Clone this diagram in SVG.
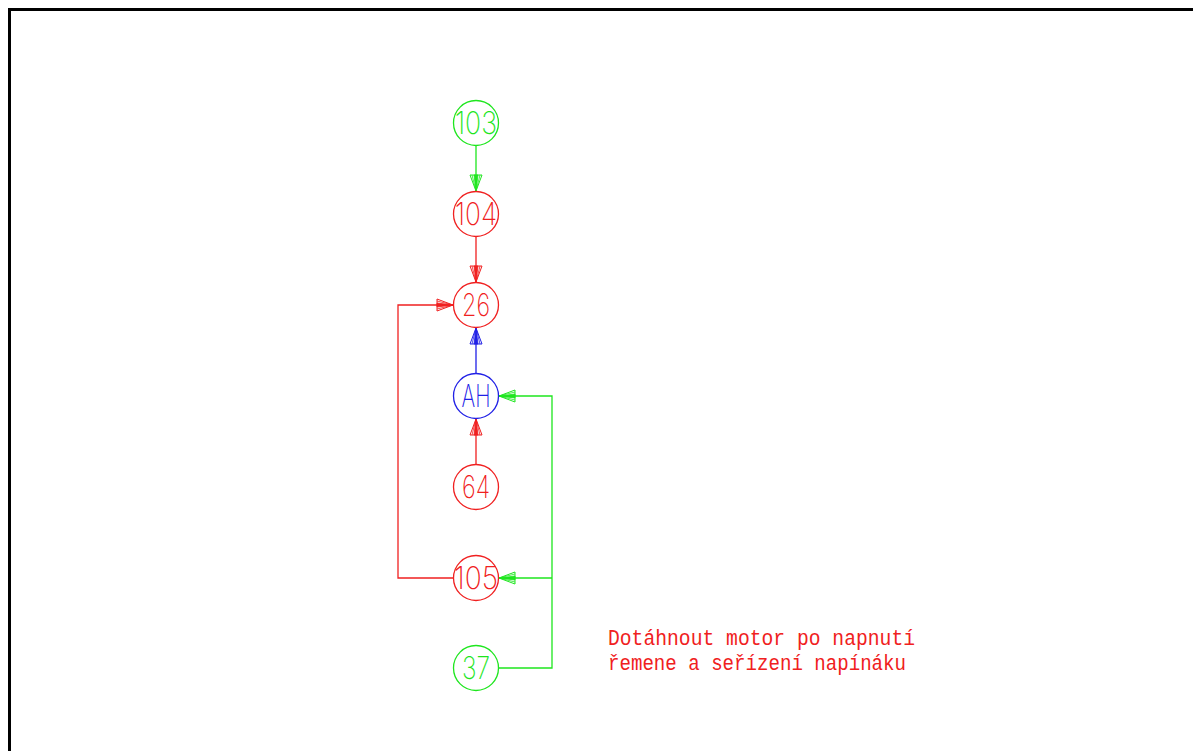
<svg xmlns="http://www.w3.org/2000/svg" width="1193" height="751" viewBox="0 0 1193 751">
<style>
.n{fill:none;stroke-width:1.3}
.t{font-family:Inter,Roboto,"Liberation Sans",Arial,sans-serif;font-weight:200;font-size:31px;text-anchor:middle}
.c{fill:none;stroke-width:1.3}
.gs{stroke:#1ee61e}
.rs{stroke:#f02020}
.bs{stroke:#2020e6}
.g{stroke:#1ee61e;fill:#1ee61e}
.r{stroke:#f02020;fill:#f02020}
.b{stroke:#2020e6;fill:#2020e6}
.note{font-family:"Liberation Mono","DejaVu Sans Mono",monospace;font-size:22px;fill:#f02020}
</style>
<defs>
<g id="ah">
<polygon points="0,0 -16,-6 -16,6" fill="none" stroke-width="1"/>
<polygon points="0,0 -16,-2 -16,2" stroke-width="0.8"/>
<line x1="-16" y1="-4" x2="0" y2="0" stroke-width="0.8"/>
<line x1="-16" y1="4" x2="0" y2="0" stroke-width="0.8"/>
</g>
</defs>
<rect x="9.5" y="9.5" width="1200" height="760" fill="#fff" stroke="#000" stroke-width="3"/>
<g id="connectors">
<line class="c gs" x1="476" y1="146" x2="476" y2="191"/>
<use href="#ah" class="g" transform="translate(476,191) rotate(90)"/>
<line class="c rs" x1="476" y1="236" x2="476" y2="282"/>
<use href="#ah" class="r" transform="translate(476,282) rotate(90)"/>
<line class="c bs" x1="476" y1="374" x2="476" y2="328"/>
<use href="#ah" class="b" transform="translate(476,328) rotate(-90)"/>
<line class="c rs" x1="476" y1="465" x2="476" y2="419"/>
<use href="#ah" class="r" transform="translate(476,419) rotate(-90)"/>
<polyline class="c rs" points="454,578 398,578 398,305 453,305"/>
<use href="#ah" class="r" transform="translate(453,305)"/>
<polyline class="c gs" points="498,668 552,668 552,396 499,396"/>
<use href="#ah" class="g" transform="translate(499,396) rotate(180)"/>
<line class="c gs" x1="552" y1="578" x2="499" y2="578"/>
<use href="#ah" class="g" transform="translate(499,578) rotate(180)"/>
</g>
<g id="n103"><circle class="n gs" cx="476" cy="123" r="22.5"/><text class="t" x="476" y="134" textLength="42" lengthAdjust="spacingAndGlyphs" fill="#1ee61e">103</text></g>
<g id="n104"><circle class="n rs" cx="476" cy="214" r="22.5"/><text class="t" x="476" y="225" textLength="42" lengthAdjust="spacingAndGlyphs" fill="#f02020">104</text></g>
<g id="n26"><circle class="n rs" cx="476" cy="305" r="22.5"/><text class="t" x="476" y="316" textLength="28" lengthAdjust="spacingAndGlyphs" fill="#f02020">26</text></g>
<g id="nAH"><circle class="n bs" cx="476" cy="396" r="22.5"/><text class="t" x="476" y="407" textLength="29" lengthAdjust="spacingAndGlyphs" fill="#2020e6">AH</text></g>
<g id="n64"><circle class="n rs" cx="476" cy="487" r="22.5"/><text class="t" x="476" y="498" textLength="28" lengthAdjust="spacingAndGlyphs" fill="#f02020">64</text></g>
<g id="n105"><circle class="n rs" cx="476" cy="578" r="22.5"/><text class="t" x="476" y="589" textLength="44" lengthAdjust="spacingAndGlyphs" fill="#f02020">105</text></g>
<g id="n37"><circle class="n gs" cx="476" cy="668" r="22.5"/><text class="t" x="476" y="679" textLength="28" lengthAdjust="spacingAndGlyphs" fill="#1ee61e">37</text></g>
<g id="note">
<text class="note" x="608" y="645" textLength="307" lengthAdjust="spacingAndGlyphs">Dotáhnout motor po napnutí</text>
<text class="note" x="608" y="670" textLength="298" lengthAdjust="spacingAndGlyphs">řemene a seřízení napínáku</text>
</g>
</svg>
